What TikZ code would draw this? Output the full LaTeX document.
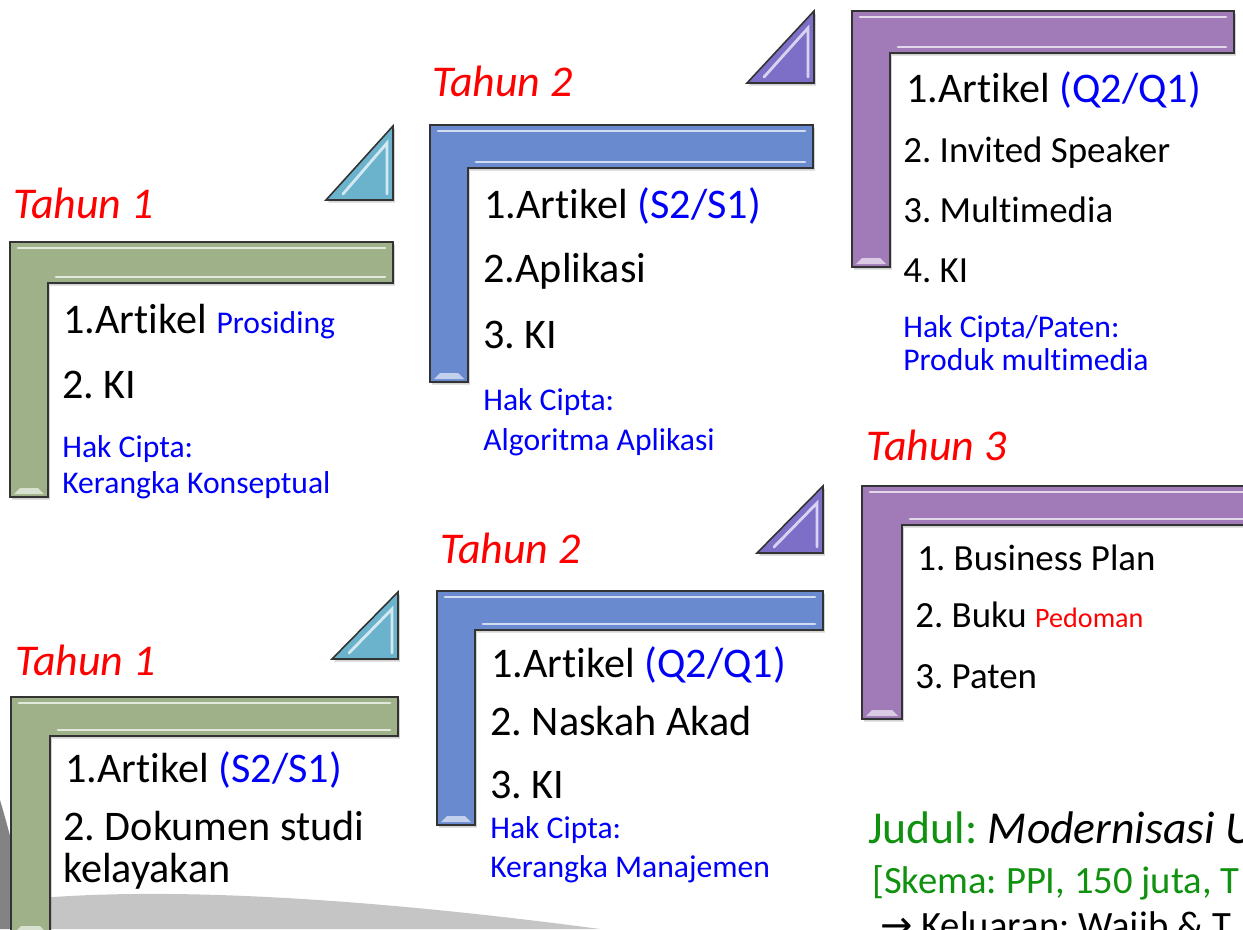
\documentclass[tikz,border=0pt]{standalone}
\usepackage{fontspec}
\setmainfont{Carlito}[Ligatures={NoCommon}]
\newfontfamily\arrowfont{DejaVu Sans}
\usetikzlibrary{shadows}
\frenchspacing

\definecolor{barGreen}{RGB}{159,177,137}
\definecolor{barBlue}{RGB}{106,138,208}
\definecolor{barPurple}{RGB}{161,122,184}
\definecolor{triCyan}{RGB}{107,179,204}
\definecolor{triPurple}{RGB}{125,110,200}
\definecolor{kiBlue}{RGB}{0,0,250}
\definecolor{judulGreen}{RGB}{16,145,16}

% L frame: x0, y0, right end, bar bottom, inner edge, foot, colour
\newcommand{\lframe}[7]{%
  \draw[frame, fill=#7] (#1,#2) -- (#3,#2) -- (#3,#4) -- (#5,#4) -- (#5,#6) -- (#1,#6) -- cycle;
  \draw[glint, draw=#7!30!white] (#1+8,#2+6) -- (#3-8,#2+6);
  \draw[glint, draw=#7!30!white] (#5+8,#4-6) -- (#3-8,#4-6);
  \fill[#7!40!white] (#1+4,#6-3) -- (#5-4,#6-3) -- (#5-10,#6-9) -- (#1+10,#6-9) -- cycle;
}
% corner triangle: left x, base y, right x, top y, colour
\newcommand{\ctri}[5]{%
  \draw[frame, fill=#5] (#1,#2) -- (#3,#2) -- (#3,#4) -- cycle;
  \draw[glint, draw=#5!30!white] (#1+17,#2-6) -- (#3-6,#4+17) -- (#3-6,#2-6);
}

\begin{document}
\begin{tikzpicture}[x=0.02cm, y=-0.02cm]
  \tikzstyle{frame} = [draw=black!80, line width=0.9pt, drop shadow={opacity=.35, shadow xshift=1pt, shadow yshift=-1.5pt}]
  \tikzstyle{glint} = [line width=1.6pt, line cap=round]
  \tikzstyle{tahun} = [anchor=base west, inner sep=0, text=red, font=\itshape\fontsize{25}{28}\selectfont]
  \tikzstyle{item} = [anchor=base west, inner sep=0, font=\fontsize{24}{28}\selectfont]
  \tikzstyle{itemsm} = [anchor=base west, inner sep=0, font=\fontsize{21}{24}\selectfont]
  \tikzstyle{hak} = [anchor=base west, inner sep=0, text=kiBlue, font=\fontsize{18}{20}\selectfont]
  \tikzstyle{judul} = [anchor=base west, inner sep=0, text=judulGreen, font=\fontsize{26}{30}\selectfont]

  \useasboundingbox (0,0) rectangle (1243,929);
  \clip (0,0) rectangle (1243,929);

  % background brush stroke
  \fill[black!65, opacity=.75] (0,800) .. controls (15,850) and (25,900) .. (32,929) -- (0,929) -- cycle;
  \fill[black!45, opacity=.5] (40,898) .. controls (200,885) and (420,905) .. (600,929) -- (40,929) -- cycle;

  % frames and triangles
  \lframe{10}{242}{393}{283}{48}{497}{barGreen}
  \lframe{430}{125}{813}{168}{468}{382}{barBlue}
  \lframe{852}{11}{1234}{53}{890}{267}{barPurple}
  \lframe{11}{697}{398}{736}{50}{935}{barGreen}
  \lframe{437}{591}{823}{630}{475}{825}{barBlue}
  \lframe{862}{486}{1260}{525}{902}{719}{barPurple}

  \ctri{326}{200}{393}{126}{triCyan}
  \ctri{747}{83}{814}{11}{triPurple}
  \ctri{332}{659}{398}{592}{triCyan}
  \ctri{757}{553}{823}{486}{triPurple}

  % Tahun 1 (atas)
  \node (tahunA) at (13,218) [tahun] {Tahun 1};
  \node (artA) at (63,333) [item] {1.Artikel {\color{kiBlue}\fontsize{18}{20}\selectfont Prosiding}};
  \node (kiA) at (62,398) [item] {2. KI};
  \node (hakA) at (62,457) [hak] {Hak Cipta:};
  \node (hakAb) at (62,493) [hak] {Kerangka Konseptual};

  % Tahun 2 (atas)
  \node (tahunB) at (432,97) [tahun] {Tahun 2};
  \node (artB) at (484,218) [item] {1.Artikel {\color{kiBlue}(S2/S1)}};
  \node (aplB) at (483,282) [item] {2.Aplikasi};
  \node (kiB) at (483,348) [item] {3. KI};
  \node (hakB) at (483,410) [hak] {Hak Cipta:};
  \node (hakBb) at (483,450) [hak] {Algoritma Aplikasi};

  % Tahun 3 (atas)
  \node (artC) at (906,103) [item] {1.Artikel {\color{kiBlue}(Q2/Q1)}};
  \node (invC) at (903,163) [itemsm] {2. Invited Speaker};
  \node (mmC) at (903,222) [itemsm] {3. Multimedia};
  \node (kiC) at (903,282) [itemsm] {4. KI};
  \node (hakC) at (903,337) [hak] {Hak Cipta/Paten:};
  \node (hakCb) at (903,370) [hak] {Produk multimedia};

  % Tahun 1 (bawah)
  \node (tahunD) at (15,675) [tahun] {Tahun 1};
  \node (artD) at (65,782) [item] {1.Artikel {\color{kiBlue}(S2/S1)}};
  \node (dokD) at (63,840) [item] {2. Dokumen studi};
  \node (dokDb) at (63,882) [item] {kelayakan};

  % Tahun 2 (bawah)
  \node (tahunE) at (440,563) [tahun] {Tahun 2};
  \node (artE) at (491,677) [item] {1.Artikel {\color{kiBlue}(Q2/Q1)}};
  \node (akadE) at (490,735) [item] {2. Naskah Akad};
  \node (kiE) at (490,798) [item] {3. KI};
  \node (hakE) at (490,838) [hak] {Hak Cipta:};
  \node (hakEb) at (490,877) [hak] {Kerangka Manajemen};

  % Tahun 3 (bawah)
  \node (tahunF) at (866,460) [tahun] {Tahun 3};
  \node (bizF) at (917,570) [itemsm] {1. Business Plan};
  \node (bukuF) at (915,627) [itemsm] {2. Buku {\color{red}\fontsize{16}{18}\selectfont Pedoman}};
  \node (patF) at (915,688) [itemsm] {3. Paten};

  % judul
  \node (judul) at (868,843) [judul] {Judul: {\color{black}\itshape Modernisasi U}};
  \node (skema) at (872,893) [judul, font=\fontsize{22}{26}\selectfont] {[Skema: PPI, 150 juta, T};
  \node (luaran) at (880,938) [judul, text=black, font=\fontsize{22}{26}\selectfont] {{\arrowfont →} Keluaran: Wajib \& T};
\end{tikzpicture}
\end{document}
